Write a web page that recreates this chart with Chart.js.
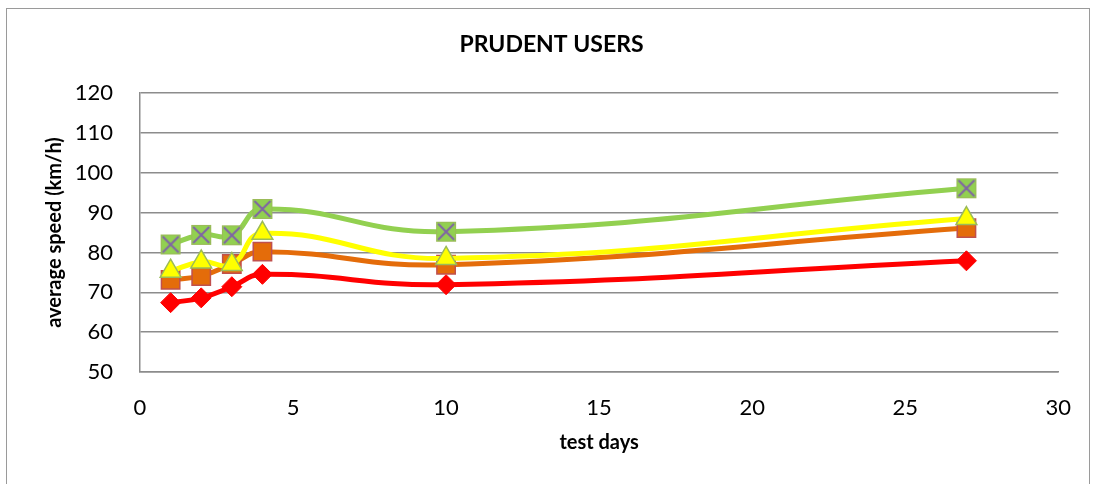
<!DOCTYPE html>
<html>
<head>
<meta charset="utf-8">
<script src="https://cdn.jsdelivr.net/npm/chart.js@4"></script>
<style>
  html, body { margin: 0; padding: 0; background: #fff; }
  #wrap { position: relative; width: 1094px; height: 484px; }
  #frame { position: absolute; left: 6px; top: 8px; width: 1084px; height: 500px; border: 1.5px solid #9a9a9a; box-sizing: border-box; }
  canvas { position: absolute; left: 0; top: 0; }
</style>
</head>
<body>
<div id="wrap">
  <div id="frame"></div>
  <canvas id="c" width="1094" height="484"></canvas>
</div>
<script>
const testDays = [1, 2, 3, 4, 10, 27];
const seriesRed = [67.4, 68.6, 71.4, 74.5, 71.9, 77.9];
const seriesOrange = [73.1, 74.1, 77.1, 80.2, 76.9, 86.1];
const seriesYellow = [75.3, 77.6, 77.0, 84.8, 78.5, 88.5];
const seriesGreen = [82.0, 84.4, 84.3, 90.9, 85.2, 96.1];
const xTicks = [0, 5, 10, 15, 20, 25, 30];
const yTicks = [50, 60, 70, 80, 90, 100, 110, 120];

function pts(ys) { return testDays.map((x, i) => ({ x: x, y: ys[i] })); }

// green square with purple X marker
const gm = document.createElement('canvas');
gm.width = 22; gm.height = 22;
(function () {
  const g = gm.getContext('2d');
  g.fillStyle = '#92D050';
  g.fillRect(1, 1, 20, 20);
  g.strokeStyle = '#9BBB59';
  g.lineWidth = 1;
  g.strokeRect(1.5, 1.5, 19, 19);
  g.strokeStyle = '#7F64A6';
  g.lineWidth = 2;
  g.beginPath();
  g.moveTo(3, 3); g.lineTo(19, 19);
  g.moveTo(19, 3); g.lineTo(3, 19);
  g.stroke();
})();

const FONT = "Lato, 'Open Sans', 'Liberation Sans', sans-serif";

new Chart(document.getElementById('c'), {
  type: 'scatter',
  data: {
    datasets: [
      { label: 'S4', data: pts(seriesGreen), showLine: true, tension: 0.45,
        borderColor: '#92D050', borderWidth: 5, pointStyle: gm, pointRadius: 11 },
      { label: 'S3', data: pts(seriesYellow), showLine: true, tension: 0.45,
        borderColor: '#FFFF00', borderWidth: 5, pointStyle: 'triangle', pointRadius: 12,
        pointBackgroundColor: '#FFFF00', pointBorderColor: '#9BBB59', pointBorderWidth: 1.5 },
      { label: 'S2', data: pts(seriesOrange), showLine: true, tension: 0.45,
        borderColor: '#E46C0A', borderWidth: 5, pointStyle: 'rect', pointRadius: 13,
        pointBackgroundColor: '#E46C0A', pointBorderColor: '#C0504D', pointBorderWidth: 1.5 },
      { label: 'S1', data: pts(seriesRed), showLine: true, tension: 0.45,
        borderColor: '#FF0000', borderWidth: 5, pointStyle: 'rectRot', pointRadius: 10,
        pointBackgroundColor: '#FF0000', pointBorderColor: '#FF0000', pointBorderWidth: 1 }
    ]
  },
  options: {
    responsive: false,
    animation: false,
    events: [],
    layout: { padding: { left: 43, right: 34, top: 0, bottom: 0 } },
    plugins: {
      legend: { display: false },
      tooltip: { enabled: false },
      title: {
        display: true,
        text: 'PRUDENT USERS',
        color: '#000',
        font: { family: FONT, size: 23, weight: 'bold' },
        padding: { top: 31, bottom: 34.4 }
      }
    },
    scales: {
      x: {
        type: 'linear',
        min: 0, max: 30,
        afterBuildTicks: (s) => { s.ticks = xTicks.map(v => ({ value: v })); },
        afterFit: (s) => { s.height = 112; },
        grid: { display: false, drawTicks: false },
        border: { display: true, color: '#8c8c8c', width: 1.5 },
        ticks: { color: '#000', font: { family: FONT, size: 22 }, padding: 23 },
        title: { display: true, text: 'test days', color: '#000',
                 font: { family: FONT, size: 20, weight: 'bold' }, padding: { top: 0, bottom: 29 } }
      },
      y: {
        type: 'linear',
        min: 50, max: 120,
        afterBuildTicks: (s) => { s.ticks = yTicks.map(v => ({ value: v })); },
        afterFit: (s) => { s.width = 97; },
        grid: { color: '#8c8c8c', lineWidth: 1.5, drawTicks: false },
        border: { display: true, color: '#8c8c8c', width: 1.5 },
        ticks: { color: '#000', font: { family: FONT, size: 22 }, padding: 27 },
        title: { display: true, text: 'average speed (km/h)', color: '#000',
                 font: { family: FONT, size: 20, weight: 'bold' }, padding: 0 }
      }
    }
  }
});
</script>
</body>
</html>
